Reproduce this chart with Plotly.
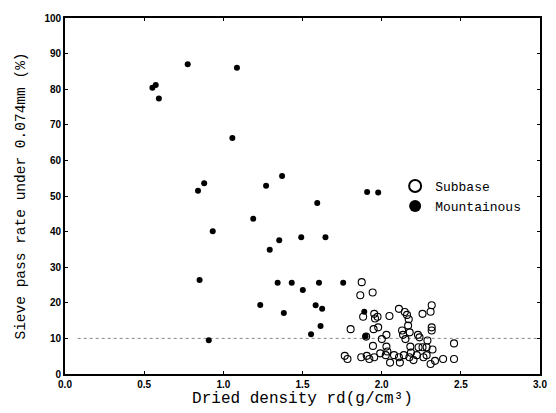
import plotly.graph_objects as go

# Mountainous (filled) points
mount_x = [0.552, 0.573, 0.593, 0.775, 1.086, 1.057, 0.84, 0.879, 1.27, 1.371,
           1.908, 1.978, 1.593, 1.189, 0.933, 1.353, 1.492, 1.645, 1.293, 0.85,
           1.343, 1.432, 1.604, 1.757, 1.502, 1.233, 1.583, 1.624, 1.382, 1.89,
           1.614, 1.554, 0.908, 1.898]
mount_y = [80.4, 81.2, 77.4, 87.0, 86.0, 66.3, 51.5, 53.6, 52.9, 55.6,
           51.1, 51.0, 48.0, 43.6, 40.1, 37.6, 38.4, 38.4, 34.9, 26.4,
           25.6, 25.6, 25.6, 25.6, 23.6, 19.4, 19.3, 18.3, 17.1, 17.5,
           13.5, 11.2, 9.5, 10.6]

# Subbase (open) points
sub_x = [1.874, 1.865, 1.943, 1.883, 1.953, 1.958, 1.974, 2.049, 2.109, 2.146,
         2.16, 2.171, 2.167, 2.129, 2.177, 2.15, 2.135, 2.229, 2.239, 2.258,
         2.309, 2.316, 2.316, 2.316, 1.804, 1.949, 1.978, 1.902, 2.001, 2.03,
         1.945, 2.03, 2.036, 2.181, 2.185, 2.233, 2.258, 2.289, 2.284, 2.321,
         2.457, 1.767, 1.784, 1.871, 1.906, 1.922, 1.953, 1.991, 2.026, 2.053,
         2.078, 2.109, 2.115, 2.14, 2.175, 2.201, 2.222, 2.264, 2.284, 2.309,
         2.337, 2.388, 2.457]
sub_y = [25.8, 22.1, 22.9, 16.1, 16.9, 15.6, 16.1, 16.3, 18.3, 17.4,
         16.6, 15.4, 13.6, 12.2, 11.7, 9.8, 11.0, 11.0, 10.3, 16.9,
         17.5, 19.3, 13.1, 12.2, 12.6, 12.6, 13.1, 10.5, 9.8, 11.0,
         7.9, 7.7, 6.3, 7.7, 6.0, 7.5, 7.5, 9.4, 7.5, 6.9,
         8.6, 5.1, 4.2, 4.7, 5.1, 4.2, 4.7, 5.8, 5.3, 3.2,
         5.3, 4.7, 3.2, 5.3, 4.7, 3.9, 5.3, 4.7, 5.3, 2.8,
         3.7, 4.2, 4.2]

threshold_y = 10
threshold_x = [0.08, 3.0]

x_ticks = [0.0, 0.5, 1.0, 1.5, 2.0, 2.5, 3.0]
x_tick_labels = ["0.0", "0.5", "1.0", "1.5", "2.0", "2.5", "3.0"]
y_ticks = [0, 10, 20, 30, 40, 50, 60, 70, 80, 90, 100]

mono = "Liberation Mono"

fig = go.Figure()
fig.add_trace(go.Scatter(
    x=threshold_x, y=[threshold_y, threshold_y], mode="lines",
    line=dict(color="#888888", width=1, dash="dot"), showlegend=False,
    hoverinfo="skip"))
fig.add_trace(go.Scatter(
    x=sub_x, y=sub_y, mode="markers", name="Subbase",
    marker=dict(symbol="circle-open", size=7, color="black",
                line=dict(width=1.1, color="black"))))
fig.add_trace(go.Scatter(
    x=mount_x, y=mount_y, mode="markers", name="Mountainous",
    marker=dict(symbol="circle", size=6, color="black")))

axis_common = dict(
    showgrid=False, zeroline=False, showline=True, linecolor="black",
    linewidth=1.8, mirror="ticks", ticks="inside", ticklen=3,
    tickcolor="black",
    tickfont=dict(family="Liberation Sans", size=10, color="black",
                  weight="bold"),
)

fig.update_xaxes(range=[0, 3.0], tickvals=x_ticks, ticktext=x_tick_labels,
                 title=dict(text="Dried density rd(g/cm³)",
                            font=dict(family=mono, size=16, color="black"),
                            standoff=2),
                 **axis_common)
fig.update_yaxes(range=[0, 100], tickvals=y_ticks,
                 title=dict(text="Sieve pass rate under 0.074mm (%)",
                            font=dict(family=mono, size=14.5, color="black"),
                            standoff=15),
                 **axis_common)

fig.update_layout(
    width=556, height=413,
    margin=dict(l=65, r=9, t=18, b=39),
    plot_bgcolor="white", paper_bgcolor="white",
    legend=dict(x=0.695, y=0.57, xanchor="left", yanchor="top",
                font=dict(family=mono, size=13, color="black"),
                bgcolor="rgba(0,0,0,0)", itemsizing="constant",
                itemwidth=30, tracegroupgap=0),
)

fig.write_html("out.html")
